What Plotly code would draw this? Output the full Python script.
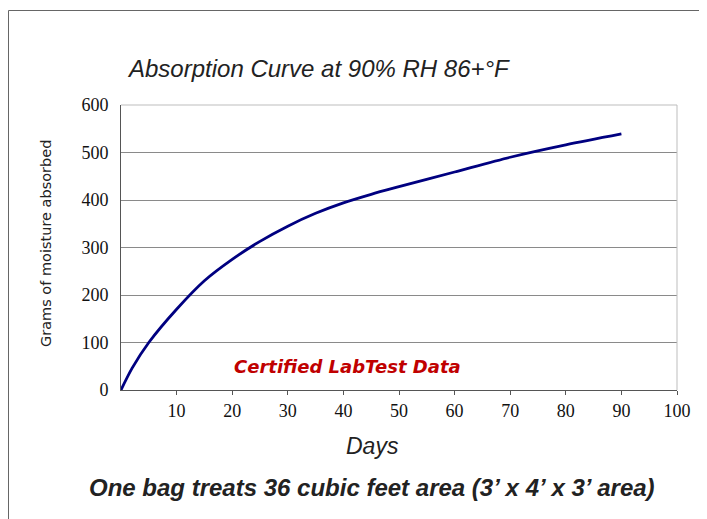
import plotly.graph_objects as go

days = [0, 2, 5, 10, 15, 20, 25, 30, 35, 40, 45, 50, 60, 70, 80, 90]
grams = [0, 46, 100, 170, 230, 275, 313, 345, 372, 394, 412, 428, 459, 490, 516, 539]

x_ticks = [10, 20, 30, 40, 50, 60, 70, 80, 90, 100]
y_ticks = [0, 100, 200, 300, 400, 500, 600]

# page has an 8px body margin, so the figure is placed at (8, 8)
OFF = 8
W, H = 707 - OFF, 519 - OFF
L, R, T, B = 121 - OFF, 677 - OFF, 105 - OFF, 390 - OFF


def px(x):
    return (x - OFF - L) / (R - L)


def py(y):
    return (B - (y - OFF)) / (B - T)


fig = go.Figure()
fig.add_trace(go.Scatter(
    x=days, y=grams, mode="lines",
    line=dict(color="#000080", width=2.8, shape="spline", smoothing=0.8),
    hoverinfo="skip", showlegend=False,
))

serif = "Liberation Serif"
fig.update_layout(
    width=W, height=H,
    margin=dict(l=L, r=W - R, t=T, b=H - B),
    paper_bgcolor="white", plot_bgcolor="white",
    showlegend=False,
    xaxis=dict(
        range=[0, 100], tickvals=x_ticks, ticktext=[str(v) for v in x_ticks],
        showgrid=False, zeroline=False,
        showline=True, linecolor="#555555", linewidth=1,
        ticks="outside", ticklen=4, tickcolor="#555555",
        tickfont=dict(family=serif, size=18, color="#111111"),
    ),
    yaxis=dict(
        range=[0, 600], tickvals=y_ticks, ticktext=[str(v) for v in y_ticks],
        showgrid=True, gridcolor="#8a8a8a", gridwidth=1, zeroline=False,
        showline=True, linecolor="#555555", linewidth=1,
        ticks="", ticklabelstandoff=8,
        tickfont=dict(family=serif, size=18, color="#111111"),
    ),
    font=dict(family="Liberation Sans, Arial, sans-serif", color="#222222"),
)

# plot area light border (top and right)
fig.add_shape(type="line", xref="paper", yref="paper", x0=0, x1=1, y0=1, y1=1,
              line=dict(color="#bdbdbd", width=1), layer="above")
fig.add_shape(type="line", xref="paper", yref="paper", x0=1, x1=1, y0=0, y1=1,
              line=dict(color="#bdbdbd", width=1), layer="above")
# outer frame (top and left)
fig.add_shape(type="line", xref="paper", yref="paper", x0=px(8.5), x1=px(707), y0=py(10.5), y1=py(10.5),
              line=dict(color="#666666", width=1))
fig.add_shape(type="line", xref="paper", yref="paper", x0=px(8.5), x1=px(8.5), y0=py(10.5), y1=py(519),
              line=dict(color="#666666", width=1))

ann_font = "Liberation Sans, Arial, sans-serif"
fig.add_annotation(text="<i>Absorption Curve at 90% RH 86+°F</i>", xref="paper", yref="paper",
                   x=px(318), y=py(68), showarrow=False, xanchor="center", yanchor="middle",
                   font=dict(family=ann_font, size=24, color="#222222"))
fig.add_annotation(text="Grams of moisture absorbed", xref="paper", yref="paper",
                   x=px(46), y=py(244), showarrow=False, textangle=-90,
                   xanchor="center", yanchor="middle",
                   font=dict(family="DejaVu Sans, sans-serif", size=14.5, color="#222222"))
fig.add_annotation(text="<i>Days</i>", xref="paper", yref="paper",
                   x=px(372), y=py(446), showarrow=False, xanchor="center", yanchor="middle",
                   font=dict(family=ann_font, size=23, color="#222222"))
fig.add_annotation(text="<b><i>One bag treats 36 cubic feet area (3’ x 4’ x 3’ area)</i></b>",
                   xref="paper", yref="paper",
                   x=px(372), y=py(487), showarrow=False, xanchor="center", yanchor="middle",
                   font=dict(family=ann_font, size=24, color="#222222"))
fig.add_annotation(text="<b><i>Certified LabTest Data</i></b>", xref="paper", yref="paper",
                   x=px(347), y=py(366), showarrow=False, xanchor="center", yanchor="middle",
                   font=dict(family="DejaVu Sans, sans-serif", size=18, color="#C00000"))

fig.write_html("out.html")
